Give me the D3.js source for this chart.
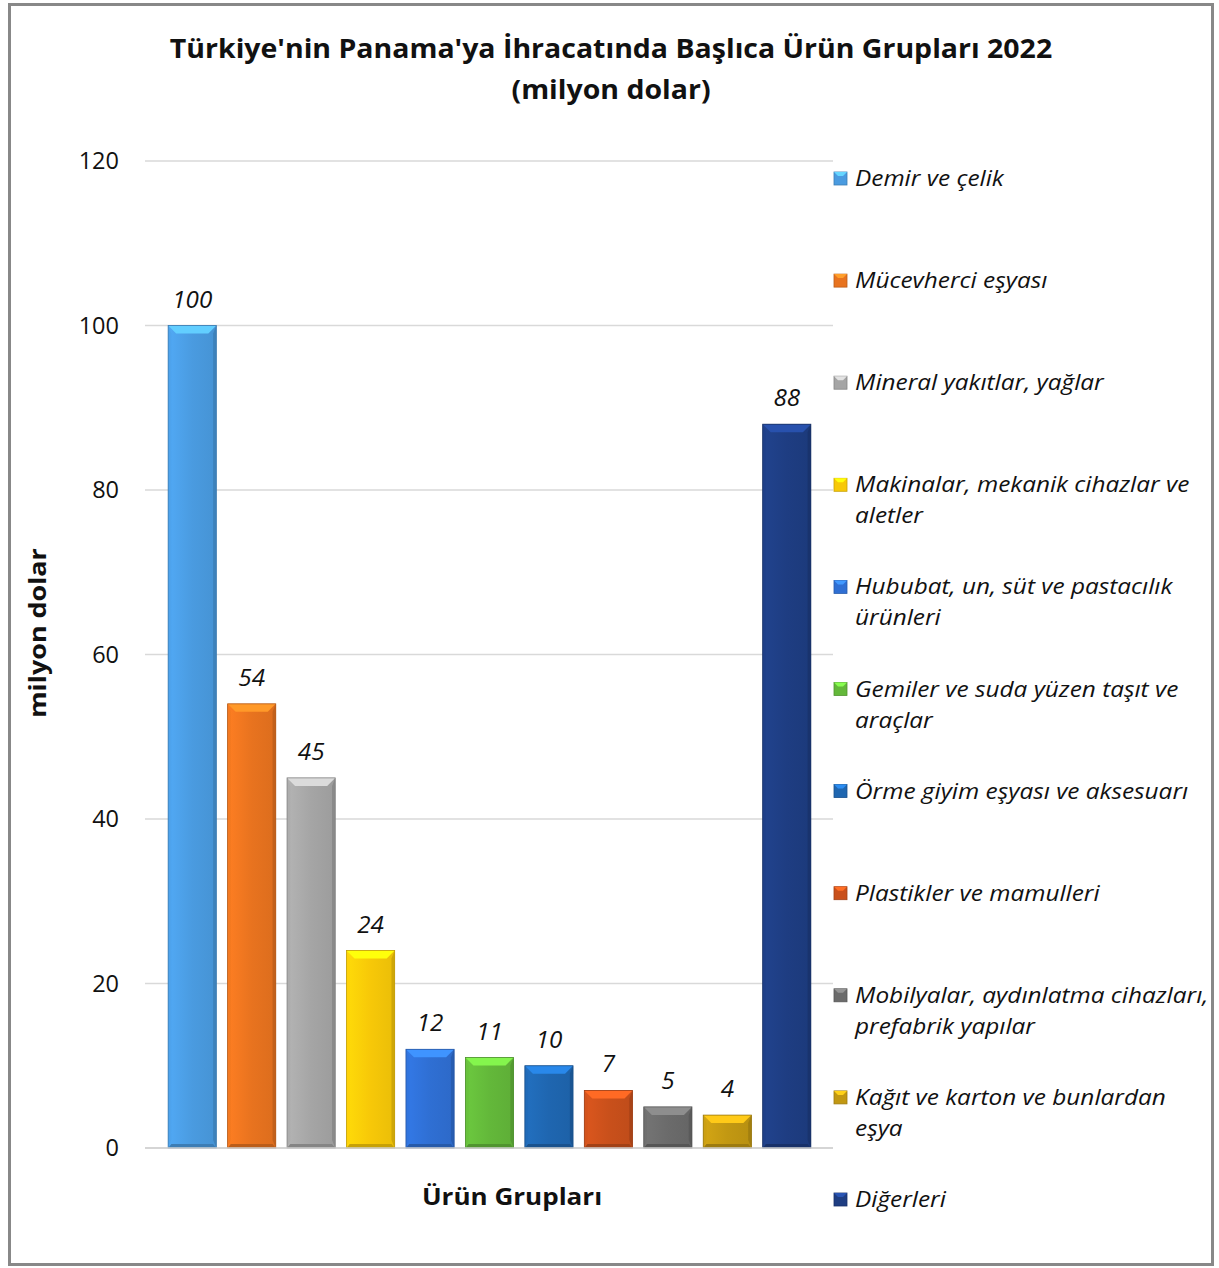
<!DOCTYPE html>
<html><head><meta charset="utf-8">
<script src="https://cdn.jsdelivr.net/npm/d3@7"></script>
<style>body{margin:0;background:#fff}svg{display:block}</style>
</head><body>
<svg id="c" width="1219" height="1268"></svg>
<script>
const categories = ["Demir ve çelik","Mücevherci eşyası","Mineral yakıtlar, yağlar","Makinalar, mekanik cihazlar ve aletler","Hububat, un, süt ve pastacılık ürünleri","Gemiler ve suda yüzen taşıt ve araçlar","Örme giyim eşyası ve aksesuarı","Plastikler ve mamulleri","Mobilyalar, aydınlatma cihazları, prefabrik yapılar","Kağıt ve karton ve bunlardan eşya","Diğerleri"];
const values = [100,54,45,24,12,11,10,7,5,4,88];
const legendLines = [["Demir ve çelik"],["Mücevherci eşyası"],["Mineral yakıtlar, yağlar"],["Makinalar, mekanik cihazlar ve","aletler"],["Hububat, un, süt ve pastacılık","ürünleri"],["Gemiler ve suda yüzen taşıt ve","araçlar"],["Örme giyim eşyası ve aksesuarı"],["Plastikler ve mamulleri"],["Mobilyalar, aydınlatma cihazları,","prefabrik yapılar"],["Kağıt ve karton ve bunlardan","eşya"],["Diğerleri"]];
const colors = ["#4a9be0","#e8731f","#a5a5a5","#f7c808","#2f6fd3","#63b83a","#1f66b0","#c9501b","#6b6b6b","#c29812","#1e3d82"];
const yTicks = [0,20,40,60,80,100,120];
const title = ["Türkiye'nin Panama'ya İhracatında Başlıca Ürün Grupları 2022","(milyon dolar)"];
const xTitle = "Ürün Grupları";
const yTitle = "milyon dolar";

const svg = d3.select("#c");
const font = "'Open Sans', sans-serif";
function txt(parent, x, y, sx, size, str, opts = {}) {
  const t = parent.append("text")
    .attr("transform", `translate(${x},${y})${opts.rotate ? " rotate(" + opts.rotate + ")" : ""} scale(${sx},1)`)
    .attr("font-family", font).attr("font-size", size).attr("fill", "#111")
    .attr("text-anchor", opts.anchor || "start").text(str);
  if (opts.bold) t.attr("font-weight", "bold");
  if (opts.italic) t.attr("font-style", "italic");
  return t;
}

svg.append("rect").attr("x",9.5).attr("y",4.5).attr("width",1203).attr("height",1260)
  .attr("fill","#fff").attr("stroke","#888").attr("stroke-width",3);

const y = d3.scaleLinear().domain([0,120]).range([1148,161]);
const x = d3.scaleBand().domain(categories).range([162.5,816.5]).paddingInner(0.19).paddingOuter(0.095);

svg.append("g").selectAll("line").data(yTicks).join("line")
  .attr("x1",145).attr("x2",833).attr("y1",d=>y(d)).attr("y2",d=>y(d))
  .attr("stroke","#d9d9d9").attr("stroke-width",1.5);

const yAxis = d3.axisLeft(y).tickValues(yTicks).tickSize(0).tickPadding(0);
const ga = svg.append("g").attr("transform","translate(119,0)").call(yAxis);
ga.select(".domain").remove();
ga.selectAll("text").attr("font-family",font).attr("font-size",23.5).attr("fill","#111");

const defs = svg.append("defs");
categories.forEach((c,i)=>{
  const col = d3.color(colors[i]);
  const g = defs.append("linearGradient").attr("id","g"+i).attr("x1","0").attr("x2","1").attr("y1","0").attr("y2","0");
  g.append("stop").attr("offset","0").attr("stop-color",col.brighter(0.25));
  g.append("stop").attr("offset","0.5").attr("stop-color",col);
  g.append("stop").attr("offset","1").attr("stop-color",col.darker(0.15));
});

const bw = x.bandwidth();
const bars = svg.append("g").selectAll("g").data(categories).join("g");
bars.each(function(c,i){
  const g = d3.select(this);
  const x0 = x(c), x1 = x0+bw, y0 = y(values[i]), y1 = y(0);
  const b = Math.min(8,(y1-y0)/2);
  const col = d3.color(colors[i]);
  g.append("rect").attr("x",x0).attr("y",y0).attr("width",bw).attr("height",y1-y0).attr("fill",`url(#g${i})`);
  g.append("polygon").attr("points",[[x0,y0],[x1,y0],[x1-b,y0+b],[x0+b,y0+b]].join(" ")).attr("fill",col.brighter(0.8));
  g.append("polygon").attr("points",[[x0,y0],[x0+b*0.4,y0+b],[x0+b*0.4,y1-b],[x0,y1]].join(" ")).attr("fill",col.brighter(0.1)).attr("opacity",0.7);
  g.append("polygon").attr("points",[[x1,y0],[x1-b*0.4,y0+b],[x1-b*0.4,y1-b],[x1,y1]].join(" ")).attr("fill",col.darker(0.5));
  g.append("polygon").attr("points",[[x0,y1],[x1,y1],[x1-b*0.4,y1-b*0.5],[x0+b*0.4,y1-b*0.5]].join(" ")).attr("fill",col.darker(0.6));
  g.append("rect").attr("x",x0).attr("y",y0).attr("width",bw).attr("height",y1-y0).attr("fill","none").attr("stroke",col.darker(0.7)).attr("stroke-width",0.8);
  txt(g, x0+bw/2, y0-18, 1.03, 23.5, values[i], {anchor:"middle", italic:true});
});

svg.append("line").attr("x1",145).attr("x2",833).attr("y1",y(0)).attr("y2",y(0)).attr("stroke","#d0d0d0").attr("stroke-width",1.5);

txt(svg, 611, 58, 1.075, 26.5, title[0], {anchor:"middle", bold:true});
txt(svg, 611, 99, 1.075, 26.5, title[1], {anchor:"middle", bold:true});
txt(svg, 512, 1205, 1.085, 24, xTitle, {anchor:"middle", bold:true});
txt(svg, 46, 633, 1.12, 24, yTitle, {anchor:"middle", bold:true, rotate:-90});

const lg = svg.append("g").selectAll("g").data(categories).join("g")
  .attr("transform",(d,i)=>`translate(834,${178+i*102.1})`);
lg.each(function(c,i){
  const g = d3.select(this);
  const col = d3.color(colors[i]);
  g.append("rect").attr("x",0).attr("y",-6).attr("width",13).attr("height",13).attr("fill",col).attr("stroke",col.darker(0.6)).attr("stroke-width",0.8);
  g.append("polygon").attr("points","0,-6 13,-6 9,-2 4,-2").attr("fill",col.brighter(0.9));
  legendLines[i].forEach((t,j)=>{
    txt(g, 21, 8+j*31, 1.16, 21, t, {italic:true});
  });
});
</script>
</body></html>
